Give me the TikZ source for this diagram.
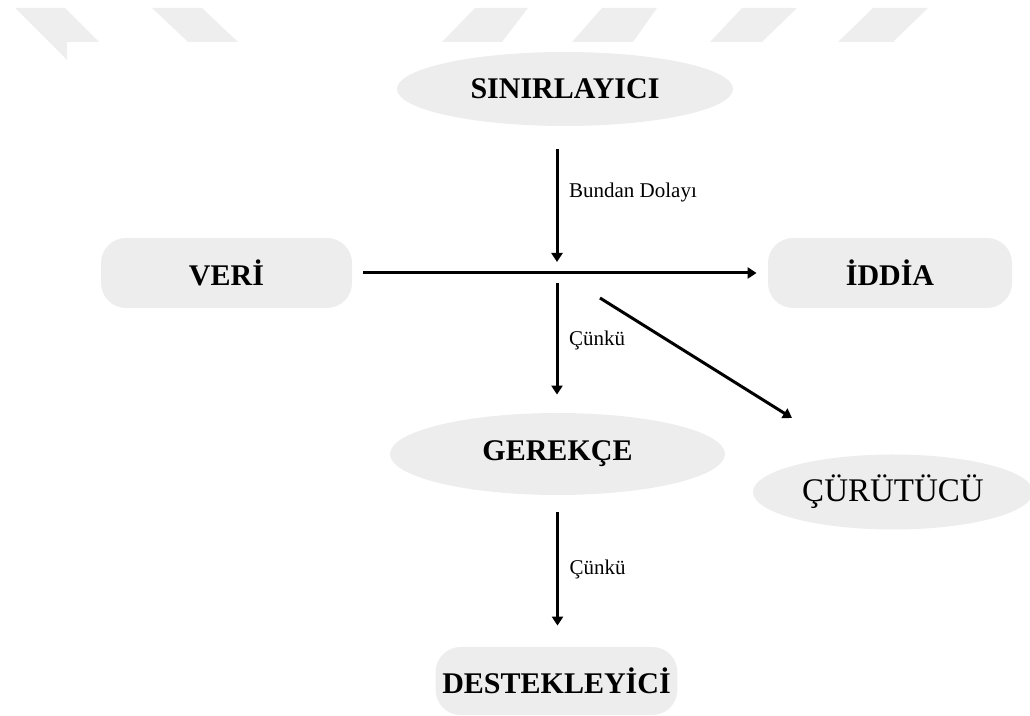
\documentclass[tikz,border=0pt]{standalone}
\usepackage{fontspec}
\setmainfont{Liberation Serif}
\usepackage{tikz}
\usetikzlibrary{shapes.geometric,arrows.meta,positioning,calc}
\definecolor{boxgray}{RGB}{237,237,237}
\definecolor{markgray}{RGB}{238,238,238}

\begin{document}
\begin{tikzpicture}[
    x=0.5pt, y=-0.5pt,
    pill/.style={rectangle, rounded corners=12.5pt, fill=boxgray, font=\fontsize{15}{18}\selectfont\bfseries},
    oval/.style={ellipse, fill=boxgray, inner sep=0pt, font=\fontsize{15}{18}\selectfont\bfseries},
    arr/.style={-{Triangle[length=4.5pt, width=5.5pt]}, line width=1.5pt},
    lbl/.style={font=\fontsize{10.5}{12}\selectfont, right=2pt}
]
    \useasboundingbox (0,0) rectangle (1030,716);

    % Watermark
    \fill[markgray] (15,8) -- (65,8) -- (99,42) -- (67,42) -- (67,60) -- cycle;
    \fill[markgray] (152,8) -- (202,8) -- (238,42) -- (188,42) -- cycle;
    \fill[markgray] (475,8) -- (528,8) -- (502,42) -- (442,42) -- cycle;
    \fill[markgray] (602,8) -- (657,8) -- (633,42) -- (572,42) -- cycle;
    \fill[markgray] (742,8) -- (797,8) -- (762,42) -- (710,42) -- cycle;
    \fill[markgray] (873,8) -- (928,8) -- (893,42) -- (838,42) -- cycle;

    % Nodes
    \node[oval, minimum width=168pt, minimum height=37pt] (sinir) at (565,89) {SINIRLAYICI};
    \node[pill, minimum width=125.5pt, minimum height=35pt] (veri) at (226.5,273) {VERİ};
    \node[pill, minimum width=122pt, minimum height=35pt] (iddia) at (890,273) {İDDİA};
    \node[oval, minimum width=167.5pt, minimum height=41pt] (gerekce) at (557.5,454) {GEREKÇE};
    \node[oval, minimum width=140pt, minimum height=37.5pt, font=\fontsize{16.5}{18}\selectfont] (curut) at (893,492) {ÇÜRÜTÜCÜ};
    \node[pill, minimum width=120.5pt, minimum height=34pt] (destek) at (556.5,681) {DESTEKLEYİCİ};

    \coordinate (hub) at (557,273);
    \coordinate (rstart) at (600,298);
    \coordinate (rend) at (792,418);

    % Arrows
    \draw[arr, shorten <=5.5pt, shorten >=5.5pt] (veri) -- (iddia);
    \draw[arr, shorten <=11.5pt, shorten >=5.5pt] (hub |- sinir.south) -- node[lbl, pos=0.45] {Bundan Dolayı} (hub);
    \draw[arr, shorten <=5pt, shorten >=9pt] (hub) -- node[lbl, pos=0.48] {Çünkü} (hub |- gerekce.north);
    \draw[arr] (rstart) -- (rend);
    \draw[arr, shorten <=8.5pt, shorten >=10.5pt] (gerekce.south) -- node[lbl, pos=0.49] {Çünkü} (gerekce.south |- destek.north);
\end{tikzpicture}
\end{document}
